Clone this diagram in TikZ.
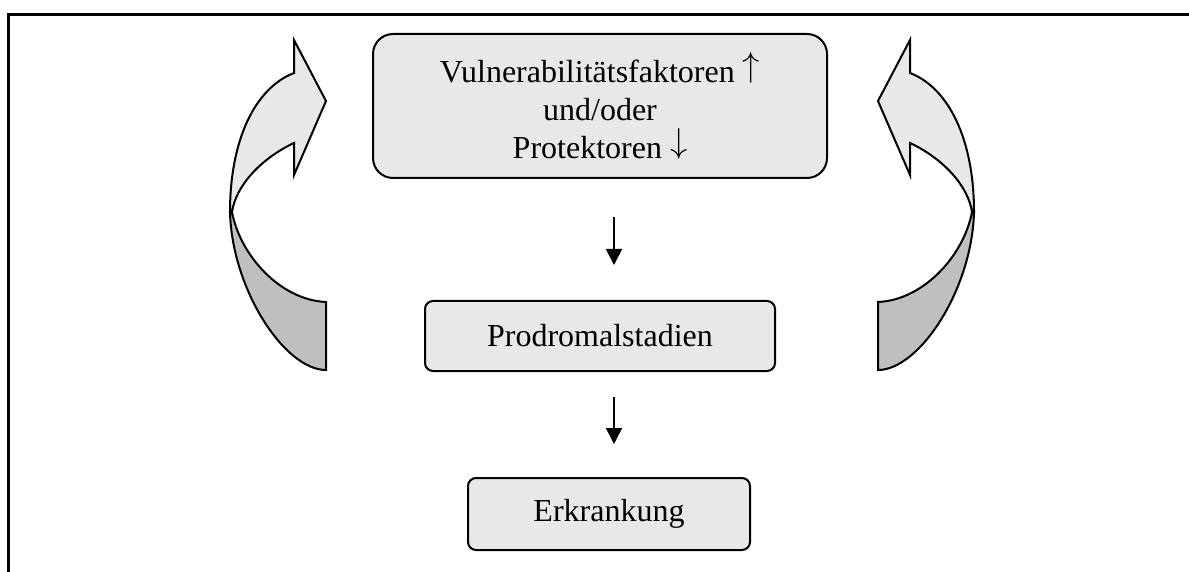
\documentclass[tikz,border=0pt]{standalone}
\usepackage{fontspec}
\setmainfont{Liberation Serif}
\usetikzlibrary{arrows.meta}
\definecolor{boxfill}{HTML}{E8E8E8}
\definecolor{backfill}{HTML}{BFBFBF}
\newcommand{\loopshape}{%
  \filldraw[curveline, fill=backfill] (230,212) .. controls (232,290) and (285,370) .. (326,370) -- (326,302) .. controls (280,300) and (240,255) .. (232,212) -- cycle;
  \filldraw[curveline, fill=boxfill] (294,73) .. controls (255,88) and (230,140) .. (230,212) -- (232,212) .. controls (236,185) and (262,158) .. (294,143) -- (294,175) -- (326,101) -- (294,40) -- cycle;
}
\newcommand{\upar}{\raisebox{0.19em}{$\uparrow$}}
\newcommand{\downar}{\raisebox{0.19em}{$\downarrow$}}
\begin{document}
\begin{tikzpicture}[x=0.5pt,y=-0.5pt,
  box/.style={draw=black, line width=1pt, fill=boxfill, rounded corners=#1, inner sep=0pt, align=center, font=\fontsize{16}{19}\selectfont},
  box/.default=4pt,
  flow/.style={line width=0.8pt, -{Triangle[width=8pt,length=8pt]}},
  curveline/.style={draw=black, line width=1pt, line join=miter}]
\useasboundingbox (0,0) rectangle (1189,572);
\draw[line width=1.5pt] (8,572) -- (8,14.5) -- (1189,14.5);
\node[box=10pt, minimum width=227pt, minimum height=72pt] (vuln) at (600,106) {Vulnerabilitätsfaktoren \upar\\und/oder\\Protektoren \downar};
\node[box, minimum width=175pt, minimum height=35pt] (prod) at (600,336) {Prodromalstadien};
\node[box, minimum width=141pt, minimum height=36pt] (erk) at (609,514) {Erkrankung};
\coordinate (a1s) at (614,217);
\coordinate (a1e) at (614,265);
\coordinate (a2s) at (614,397);
\coordinate (a2e) at (614,444);
\draw[flow] (a1s) -- (a1e);
\draw[flow] (a2s) -- (a2e);
\loopshape
\begin{scope}[shift={(1204,0)}, xscale=-1]
\loopshape
\end{scope}
\end{tikzpicture}
\end{document}
